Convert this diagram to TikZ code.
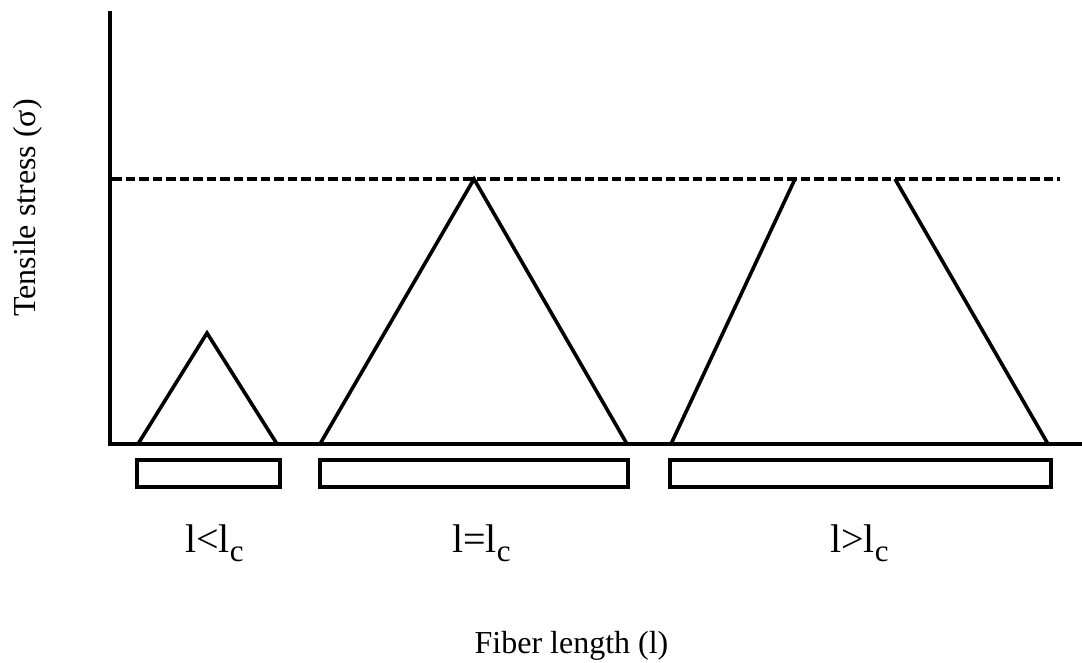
\documentclass[tikz,border=0pt]{standalone}
\usepackage{fontspec}
\setmainfont{Liberation Serif}
\newcommand{\subc}{\raisebox{-9pt}{\fontsize{31}{34}\selectfont c}}
\begin{document}
\begin{tikzpicture}[x=1pt,y=-1pt,
  axis/.style={line width=4pt},
  curve/.style={line width=3.6pt, line join=miter},
  bar/.style={line width=4pt},
  limit/.style={line width=3.3pt, dash pattern=on 9.5pt off 4pt},
  cond/.style={inner sep=0pt, anchor=base west, font=\fontsize{40}{44}\selectfont},
  axlabel/.style={inner sep=0pt, anchor=base, font=\fontsize{32}{36}\selectfont}]
\useasboundingbox (0,0) rectangle (1082,662);
% axes
\coordinate (top) at (110,11);
\coordinate (orig) at (110,444);
\coordinate (xend) at (1082,444);
\draw[axis] (top) -- (orig) -- (xend);
% dashed limit
\coordinate (d1) at (112,179);
\coordinate (d2) at (1060,179);
\draw[limit] (d1) -- (d2);
% triangle 1
\draw[curve] (138,444) -- (207,333) -- (277,444);
% triangle 2
\draw[curve] (320,444) -- (474,179) -- (627,444);
% long fibre: two flanks, open top
\draw[curve] (671,444) -- (795,179);
\draw[curve] (895,179) -- (1048,444);
% bars
\draw[bar] (137,460) rectangle (280,487);
\draw[bar] (320,460) rectangle (628,487);
\draw[bar] (670,460) rectangle (1051,487);
% labels
\node[cond] (c1) at (185,552) {l<l\subc};
\node[cond] (c2) at (452,552) {l=l\subc};
\node[cond] (c3) at (830,552) {l>l\subc};
\node[axlabel] (xl) at (571.5,653) {Fiber length (l)};
\node[axlabel, rotate=90] (yl) at (35,208) {Tensile stress (σ)};
\end{tikzpicture}
\end{document}
